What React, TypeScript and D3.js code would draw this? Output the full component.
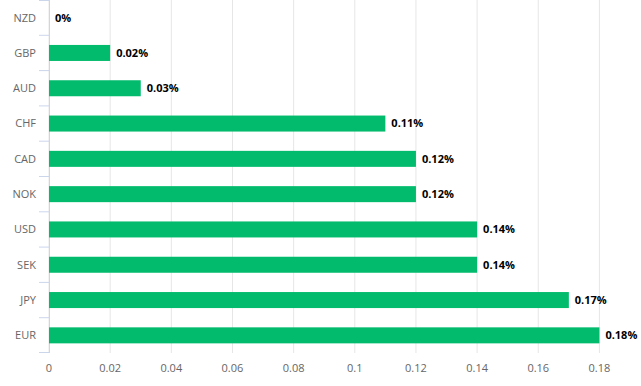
import React from "react";
import * as d3 from "d3";

const currencies = ["NZD", "GBP", "AUD", "CHF", "CAD", "NOK", "USD", "SEK", "JPY", "EUR"];
const changes = [0, 0.02, 0.03, 0.11, 0.12, 0.12, 0.14, 0.14, 0.17, 0.18];
const labels = ["0%", "0.02%", "0.03%", "0.11%", "0.12%", "0.12%", "0.14%", "0.14%", "0.17%", "0.18%"];
const xTicks = [0, 0.02, 0.04, 0.06, 0.08, 0.1, 0.12, 0.14, 0.16, 0.18];

export default function App() {
  const width = 641;
  const height = 386;
  const left = 49;
  const right = 630;
  const top = 0;
  const bottom = 353;

  const x = d3.scaleLinear().domain([0, 0.19]).range([left, right]);
  const y = d3.scaleBand().domain(currencies).range([top, bottom]).paddingInner(0).paddingOuter(0);
  const barH = 16;
  const font = "'Open Sans', 'DejaVu Sans', sans-serif";

  return (
    <svg
      width={width}
      height={height}
      style={{ position: "absolute", left: 0, top: 0, fontFamily: font }}
    >
      <rect width={width} height={height} fill="#fff" />
      {xTicks.map((t) => (
        <line key={t} x1={x(t)} x2={x(t)} y1={top} y2={bottom} stroke="#e6e6e6" strokeWidth={1} />
      ))}
      {/* category boundary ticks */}
      {currencies.map((c, i) => (
        <line
          key={c}
          x1={left - 10}
          x2={left}
          y1={(y(c) as number) + (i === 0 ? 0.5 : 0)}
          y2={(y(c) as number) + (i === 0 ? 0.5 : 0)}
          stroke="#ccd6eb"
        />
      ))}
      <line x1={left - 10} x2={left} y1={bottom - 0.5} y2={bottom - 0.5} stroke="#ccd6eb" />
      <line x1={left + 0.5} x2={left + 0.5} y1={top} y2={bottom} stroke="#ccd6eb" />
      {currencies.map((c, i) => {
        const cy = (y(c) as number) + y.bandwidth() / 2;
        return (
          <g key={c}>
            <rect
              x={x(0)}
              y={cy - barH / 2}
              width={x(changes[i]) - x(0)}
              height={barH}
              fill="#02bb6c"
            />
            <text x={36} y={cy} dy="0.35em" textAnchor="end" fontSize={11} fill="#666">
              {c}
            </text>
            <text
              x={x(changes[i]) + 6}
              y={cy}
              dy="0.35em"
              fontSize={11}
              fontWeight="bold"
              fill="#000"
            >
              {labels[i]}
            </text>
          </g>
        );
      })}
      {xTicks.map((t) => (
        <text key={t} x={x(t)} y={372} textAnchor="middle" fontSize={11} fill="#666">
          {d3.format("~g")(t)}
        </text>
      ))}
    </svg>
  );
}
